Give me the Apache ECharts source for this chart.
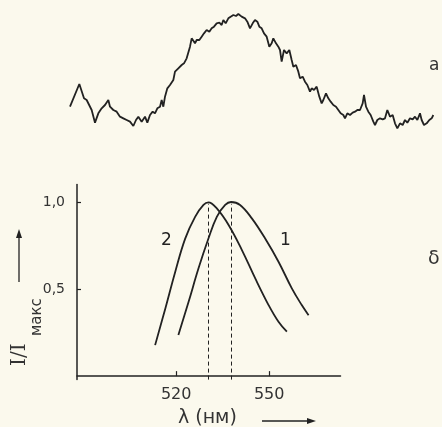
<!DOCTYPE html>
<html>
<head>
<meta charset="utf-8">
<script src="https://cdn.jsdelivr.net/npm/echarts@6/dist/echarts.min.js"></script>
<style>
  html, body { margin: 0; padding: 0; background: #fbf9ed; }
  #chart { width: 442px; height: 427px; }
</style>
</head>
<body>
<div id="chart"></div>
<script>
// верхняя запись (а) — шумный спектр, без осей, условные единицы
const scanX = [30, 58, 72, 80, 85, 95, 105, 115, 125, 135, 145, 150, 160, 170, 175, 180, 190, 200, 210, 220,
  228, 235, 245, 255, 262, 270, 278, 285, 292, 300, 305, 310, 315, 322, 330, 340, 345, 355, 365, 372,
  380, 385, 390, 395, 400, 405, 410, 418, 425, 432, 440, 448, 455, 462, 470, 478, 485, 490, 497, 505,
  512, 520, 528, 535, 545, 555, 562, 570, 578, 585, 592, 598, 605, 612, 620, 628, 635, 640, 648, 655,
  660, 665, 672, 680, 688, 695, 700, 708, 715, 720, 728, 735, 742, 750, 755, 762, 770, 778, 785, 790,
  798, 805, 812, 820, 828, 835, 842, 850, 855, 862, 870, 878, 885, 892, 900, 908, 912, 918, 925, 932,
  940, 945, 952, 960, 968, 975, 982, 990, 998, 1005, 1012, 1020, 1028, 1035, 1042, 1050, 1058, 1065, 1072, 1080,
  1085, 1092, 1100, 1108, 1115, 1120]
const scanY = [130, 198, 155, 150, 155, 120, 82, 110, 125, 135, 150, 130, 120, 115, 120, 100, 95, 90, 85, 72,
  90, 100, 85, 100, 82, 105, 115, 110, 125, 130, 150, 130, 160, 185, 195, 210, 235, 245, 255, 260,
  275, 280, 310, 335, 330, 320, 330, 330, 340, 350, 360, 355, 365, 370, 380, 382, 375, 390, 380, 395,
  400, 405, 402, 408, 400, 395, 385, 365, 380, 390, 385, 370, 365, 350, 340, 310, 320, 335, 320, 310,
  300, 265, 300, 290, 300, 270, 250, 255, 235, 215, 220, 205, 195, 175, 185, 180, 190, 160, 140, 150,
  170, 155, 145, 135, 130, 120, 110, 105, 95, 110, 105, 112, 115, 120, 120, 140, 165, 130, 115, 105,
  85, 75, 90, 95, 92, 95, 120, 100, 105, 80, 65, 80, 75, 90, 82, 95, 92, 100, 90, 110,
  90, 75, 80, 90, 95, 105]

// нижний график (б): λ, нм и I/Iмакс
const lambda1 = [520.7, 524.0, 527.2, 530.4, 533.1, 535.8, 537.7, 540.6, 544.4, 548.7, 553.0, 557.3, 560.5, 562.7]
const int1 = [0.236, 0.427, 0.619, 0.79, 0.915, 0.983, 1.0, 0.983, 0.906, 0.79, 0.657, 0.504, 0.408, 0.35]
const lambda2 = [513.2, 516.5, 519.7, 522.9, 526.1, 528.8, 530.4, 533.1, 536.9, 541.2, 545.5, 549.8, 553.0, 555.7]
const int2 = [0.178, 0.389, 0.60, 0.79, 0.915, 0.983, 0.998, 0.963, 0.868, 0.724, 0.561, 0.408, 0.312, 0.255]
const peaks = [537.6, 530.4]
const xTicks = [520, 550]
const yTicks = [0.5, 1.0]

const ink = '#222'
const chart = echarts.init(document.getElementById('chart'))

const zip = (xs, ys) => xs.map((x, i) => [x, ys[i]])

function arrowHead(x, y, dir) {
  // маленький заполненный наконечник стрелки
  const pts = dir === 'up'
    ? [[x, y], [x - 3, y + 9], [x + 3, y + 9]]
    : [[x, y], [x - 9, y - 3], [x - 9, y + 3]]
  return { type: 'polygon', shape: { points: pts }, style: { fill: ink } }
}

const option = {
  backgroundColor: '#fbf9ed',
  animation: false,
  grid: [
    { left: 77, top: 184.6, width: 263.5, height: 195 },
    { left: 60, top: 0, width: 382, height: 150 }
  ],
  xAxis: [
    {
      type: 'value', gridIndex: 0, min: 488, max: 573,
      splitLine: { show: false },
      axisLine: { lineStyle: { color: ink, width: 1.5 } },
      axisTick: { inside: true, length: 5, customValues: xTicks, lineStyle: { color: ink, width: 1.2 } },
      axisLabel: { customValues: xTicks, color: '#333', fontSize: 16, margin: 7, fontFamily: 'DejaVu Sans' }
    },
    { type: 'value', gridIndex: 1, min: 0, max: 1146, show: false }
  ],
  yAxis: [
    {
      type: 'value', gridIndex: 0, min: -0.02, max: 1.1,
      splitLine: { show: false },
      axisLine: { show: true, lineStyle: { color: ink, width: 1.5 } },
      axisTick: { show: true, inside: true, length: 4, customValues: yTicks, lineStyle: { color: ink, width: 1.2 } },
      axisLabel: {
        customValues: yTicks, color: '#333', fontSize: 14, margin: 12, fontFamily: 'DejaVu Sans',
        formatter: v => v.toFixed(1).replace('.', ',')
      }
    },
    { type: 'value', gridIndex: 1, min: 0, max: 450, show: false }
  ],
  graphic: {
    elements: [
      { type: 'text', left: 429, top: 57, style: { text: 'а', fontSize: 17, fill: '#333', fontFamily: 'DejaVu Sans' } },
      { type: 'text', left: 428, top: 250, style: { text: 'δ', fontSize: 19, fill: '#333', fontFamily: 'DejaVu Sans' } },
      { type: 'text', left: 161, top: 232, style: { text: '2', fontSize: 17, fill: '#222', fontFamily: 'DejaVu Sans' } },
      { type: 'text', left: 280, top: 232, style: { text: '1', fontSize: 17, fill: '#222', fontFamily: 'DejaVu Sans' } },
      // подпись оси Y
      {
        type: 'group', x: 10, y: 366, rotation: Math.PI / 2,
        children: [
          { type: 'text', x: 0, y: 0, style: { text: 'I/I', fontSize: 20, fill: '#333', fontFamily: 'DejaVu Serif' } },
          { type: 'text', x: 30, y: 20, style: { text: 'макс', fontSize: 15, fill: '#333', fontFamily: 'DejaVu Sans' } }
        ]
      },
      { type: 'line', shape: { x1: 19, y1: 282, x2: 19, y2: 236 }, style: { stroke: ink, lineWidth: 1.3 } },
      arrowHead(19, 229, 'up'),
      // подпись оси X
      { type: 'text', left: 178, top: 409, style: { text: 'λ (нм)', fontSize: 19, fill: '#333', fontFamily: 'DejaVu Sans' } },
      { type: 'line', shape: { x1: 262, y1: 421, x2: 308, y2: 421 }, style: { stroke: ink, lineWidth: 1.3 } },
      arrowHead(316, 421, 'right')
    ]
  },
  series: [
    {
      type: 'line', xAxisIndex: 1, yAxisIndex: 1, data: zip(scanX, scanY),
      symbol: 'none', lineStyle: { color: ink, width: 1.8 }
    },
    {
      name: '1', type: 'line', data: zip(lambda1, int1), smooth: 0.4,
      symbol: 'none', lineStyle: { color: ink, width: 1.8 },
      markLine: {
        silent: true, symbol: 'none',
        lineStyle: { color: ink, type: [4, 3], width: 1 },
        label: { show: false },
        data: peaks.map(p => [{ coord: [p, -0.02] }, { coord: [p, 0.99] }])
      }
    },
    {
      name: '2', type: 'line', data: zip(lambda2, int2), smooth: 0.4,
      symbol: 'none', lineStyle: { color: ink, width: 1.8 }
    }
  ]
}

chart.setOption(option)
</script>
</body>
</html>
